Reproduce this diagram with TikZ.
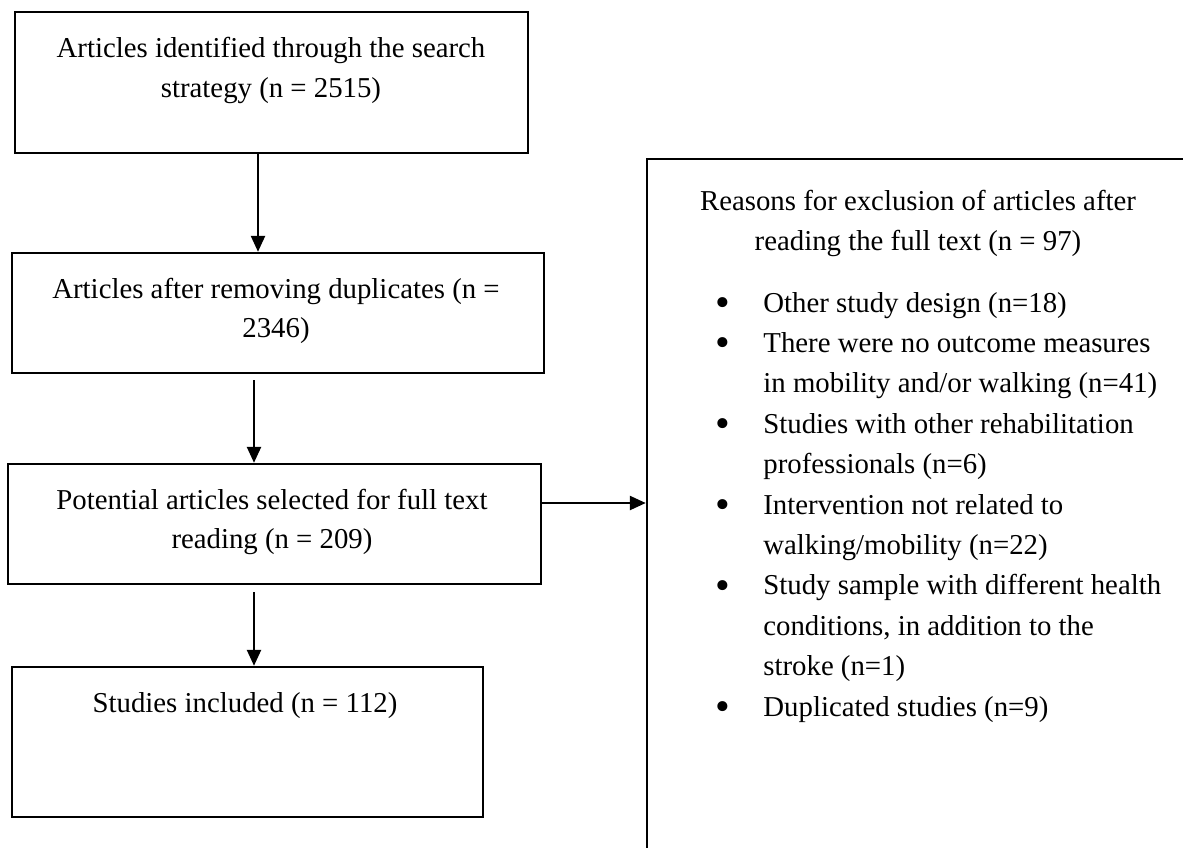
\documentclass[tikz,border=0pt]{standalone}
\usepackage{fontspec}
\setmainfont{Liberation Serif}
\usetikzlibrary{arrows.meta,fit}
\newcommand{\bigbul}{\raisebox{-2.2pt}{\fontsize{21pt}{21pt}\selectfont\textbullet}}
\tikzset{
  box/.style={draw=black, line width=1.2pt, inner sep=0pt, rectangle},
  txt/.style={inner sep=0pt, align=center, font=\fontsize{14.4pt}{19.8pt}\selectfont},
  arr/.style={draw=black, line width=1.2pt, -{Triangle[length=8pt,width=7pt]}}
}
\begin{document}
\begin{tikzpicture}[x=0.5pt,y=-0.5pt]
\path[use as bounding box, clip] (0,0) rectangle (1183,847);
\fill[white] (0,0) rectangle (1183,847);
% boxes
\node[box, fit={(15,12) (528,153)}] (b1) {};
\node[box, fit={(12,253) (544,373)}] (b2) {};
\node[box, fit={(8,464) (541,584)}] (b3) {};
\node[box, fit={(12,667) (483,817)}] (b4) {};
\node[box, fit={(647,159) (1210,880)}] (rb) {};
% texts
\node[txt] (t1) at (271,70.5) {Articles identified through the search\\strategy (n = 2515)};
\node[txt] (t2) at (276,311) {Articles after removing duplicates (n =\\2346)};
\node[txt] (t3) at (272,522) {Potential articles selected for full text\\reading (n = 209)};
\node[txt] (t4) at (245,706) {Studies included (n = 112)};
\node[txt] (hd) at (918,223.5) {Reasons for exclusion of articles after\\reading the full text (n = 97)};
\node[inner sep=0pt, anchor=base west, font=\fontsize{14.4pt}{20.2pt}\selectfont] (list) at (715,312)
{\begin{tabular}[t]{@{}p{24pt}@{}l@{}}
\bigbul & Other study design (n=18)\\
\bigbul & There were no outcome measures\\
 & in mobility and/or walking (n=41)\\
\bigbul & Studies with other rehabilitation\\
 & professionals (n=6)\\
\bigbul & Intervention not related to\\
 & walking/mobility (n=22)\\
\bigbul & Study sample with different health\\
 & conditions, in addition to the\\
 & stroke (n=1)\\
\bigbul & Duplicated studies (n=9)
\end{tabular}};
% connectors
\coordinate (xa) at (258,0);
\coordinate (xb) at (254,0);
\coordinate (s2) at (254,380);
\coordinate (s3) at (254,592);
\coordinate (y4) at (0,503);
\draw[arr] (b1.south -| xa) -- (b2.north -| xa);
\draw[arr] (s2) -- (b3.north -| xb);
\draw[arr] (s3) -- (b4.north -| xb);
\draw[arr] (b3.east |- y4) -- (rb.west |- y4);
\end{tikzpicture}
\end{document}
